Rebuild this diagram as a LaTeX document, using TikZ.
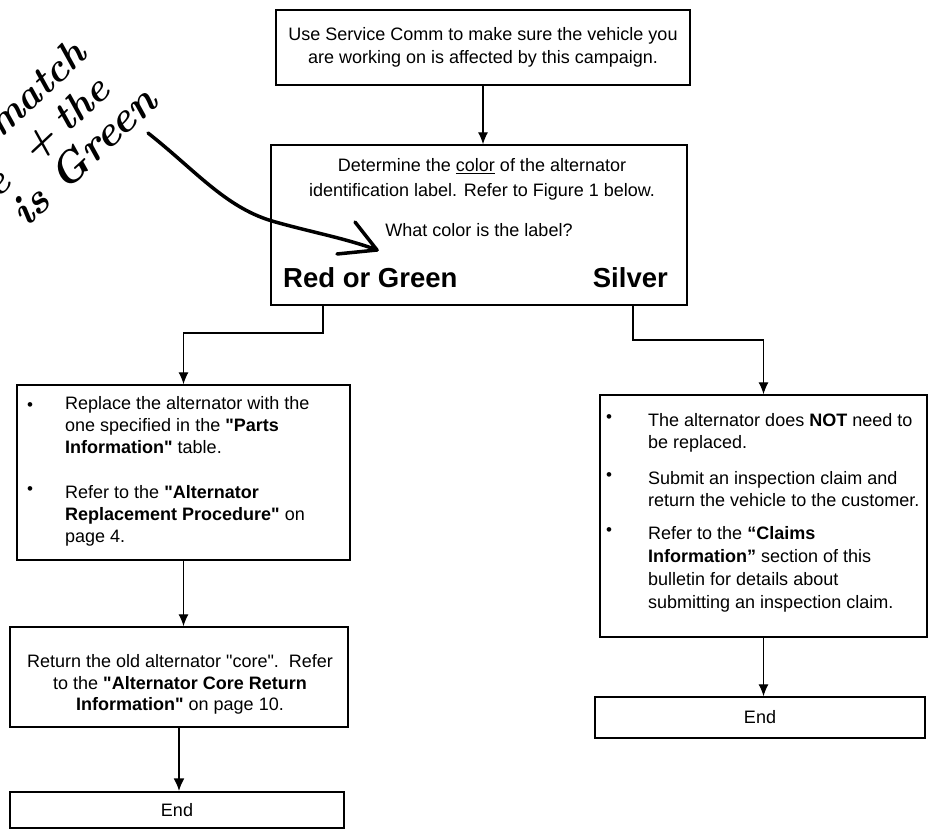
\documentclass[tikz,border=0pt]{standalone}
\usepackage{fontspec}
\newfontfamily\arial{Liberation Sans}
\usetikzlibrary{arrows.meta,calc}
\begin{document}
\begin{tikzpicture}[x=1pt,y=-1pt,
  every node/.style={font=\arial\fontsize{18}{22}\selectfont, inner sep=0pt},
  box/.style 2 args={draw, line width=1.4pt, minimum width=#1, minimum height=#2},
  arr/.style={line width=1.2pt, -{Latex[length=12pt,width=10pt]}},
  thickarr/.style={line width=2.2pt, -{Latex[length=13pt,width=11pt]}},
  bul/.style={font=\arial\fontsize{17}{17}\selectfont},
  txt/.style={align=left},
  big/.style={font=\arial\bfseries\fontsize{27.5}{30}\selectfont},
  hand/.style={font=\rmfamily\bfseries\itshape\fontsize{40}{40}\selectfont, rotate=43, anchor=base west},
  pen/.style={line width=3.5pt, line cap=round, line join=round}]
\useasboundingbox (0,0) rectangle (929,835);

% top box
\node[box={414pt}{75pt}, align=center, font=\arial\fontsize{18}{23}\selectfont] (b1) at (483,47.5)
  {Use Service Comm to make sure the vehicle you\\are working on is affected by this campaign.};

% decision box
\node[box={416pt}{160pt}] (b2) at (479,225) {};
\node[anchor=north, align=center, font=\arial\fontsize{18}{25}\selectfont] (t2) at (482,158.5)
  {Determine the \underline{color} of the alternator\\identification label. Refer to Figure 1 below.};
\node (t2q) at (479,230) {What color is the label?};
\node[big, anchor=west] (rg) at (283,278) {Red or Green};
\node[big, anchor=east] (sv) at (668,278) {Silver};

% left branch
\node[box={333pt}{175pt}] (b3) at (183.5,472.5) {};
\node[bul] (u3a) at (30,407) {\textbullet};
\node[bul] (u3b) at (30,491) {\textbullet};
\node[txt, anchor=north west] (t3a) at (65,396.5)
  {Replace the alternator with the\\one specified in the \textbf{"Parts}\\\textbf{Information"} table.};
\node[txt, anchor=north west] (t3b) at (65,485.5)
  {Refer to the \textbf{"Alternator}\\\textbf{Replacement Procedure"} on\\page 4.};

\node[box={338pt}{100pt}] (b4) at (179,677) {};
\node[anchor=north, align=center, font=\arial\fontsize{18}{21.5}\selectfont] (t4) at (180,654.5)
  {Return the old alternator "core".\ \ Refer\\to the \textbf{"Alternator Core Return}\\\textbf{Information"} on page 10.};

\node[box={334pt}{36pt}] (b5) at (177,810) {End};

% right branch
\node[box={327pt}{242pt}] (b6) at (763.5,516) {};
\node[bul] (u6a) at (609,419) {\textbullet};
\node[bul] (u6b) at (609,477) {\textbullet};
\node[bul] (u6c) at (609,532) {\textbullet};
\node[txt, anchor=north west] (t6a) at (648,413.5)
  {The alternator does \textbf{NOT} need to\\be replaced.};
\node[txt, anchor=north west] (t6b) at (648,471.5)
  {Submit an inspection claim and\\return the vehicle to the customer.};
\node[txt, anchor=north west, font=\arial\fontsize{18}{23}\selectfont] (t6c) at (648,526.5)
  {Refer to the \textbf{“Claims}\\\textbf{Information”} section of this\\bulletin for details about\\submitting an inspection claim.};

\node[box={330pt}{41pt}] (b7) at (760,717.5) {End};

% connectors
\draw[arr] (b1.south) -- (b1.south |- b2.north);
\coordinate (ja) at (323,333);
\draw[arr] (ja |- b2.south) -- (ja) -| (b3.north);
\coordinate (jb) at (633,340);
\draw[arr] (jb |- b2.south) -- (jb) -| (b6.north);
\draw[arr] (b3.south) -- (b3.south |- b4.north);
\draw[thickarr] (b4.south) -- (b4.south |- b5.north);
\draw[arr] (b6.south) -- (b6.south |- b7.north);

% handwritten note
\begin{scope}
\clip (0,0) rectangle (929,835);
\node[hand] (h1) at (0,140) {match};
\node[hand] (h2) at (-3,200) {e\hspace{30pt}+\hspace{10pt}the};
\node[hand, font=\rmfamily\bfseries\itshape\fontsize{43}{43}\selectfont] (h3) at (26,229) {is Green};
\coordinate (hs) at (148,133);
\coordinate (ht) at (377,250);
\draw[pen] (hs) .. controls (195,170) and (225,207) .. (272,221)
  .. controls (310,232) and (345,238) .. (ht);
\draw[pen] ($(ht)+(-22,-28)$) -- (ht) -- ($(ht)+(-40,4)$);
\end{scope}
\end{tikzpicture}
\end{document}
